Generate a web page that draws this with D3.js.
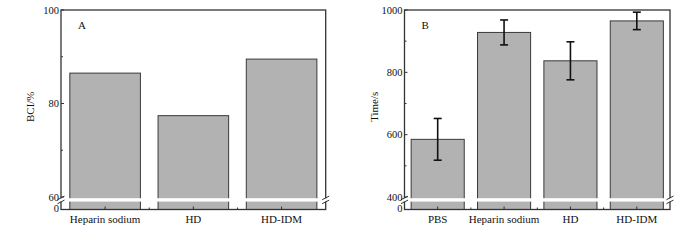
<!DOCTYPE html>
<html>
<head>
<meta charset="utf-8">
<script src="https://cdn.jsdelivr.net/npm/d3@7"></script>
<style>
  body { margin: 0; background: #fff; }
  svg { display: block; font-family: 'Liberation Serif', 'Times New Roman', serif; }
</style>
</head>
<body>
<div id="chart"></div>
<script>
// panel A
const catsA = ['Heparin sodium', 'HD', 'HD-IDM']
const valsA = [86.5, 77.4, 89.5]
const ticksA = [60, 80, 100]
const minorA = [70, 90]

// panel B
const catsB = ['PBS', 'Heparin sodium', 'HD', 'HD-IDM']
const valsB = [585, 928, 837, 965]
const errsB = [67, 40, 61, 28]
const ticksB = [400, 600, 800, 1000]
const minorB = [500, 700, 900]

const svg = d3.select('#chart').append('svg').attr('width', 700).attr('height', 240)

const plotTop = 10
const breakY = 197   // y of the lower domain value
const plotBottom = 209.5
const bandTop = 198.2
const bandBot = 201.6

function panel(opts) {
  const { x0, x1, cats, vals, errs, ticks, minor, label, letter } = opts
  const g = svg.append('g')
  const lo = ticks[0]
  const hi = ticks[ticks.length - 1]
  const y = d3.scaleLinear().domain([lo, hi]).range([breakY, plotTop])
  const x = d3.scaleBand().domain(cats).range([x0, x1]).paddingInner(0.2).paddingOuter(0.1)

  // bars
  g.selectAll('rect.bar')
    .data(vals)
    .join('rect')
    .attr('class', 'bar')
    .attr('x', (d, i) => x(cats[i]))
    .attr('y', (d) => y(d))
    .attr('width', x.bandwidth())
    .attr('height', (d) => plotBottom - y(d))
    .attr('fill', '#b2b2b2')
    .attr('stroke', '#3a3a3a')
    .attr('stroke-width', 1)

  // error bars
  if (errs) {
    const cap = 4
    const eg = g.selectAll('g.err').data(vals).join('g').attr('class', 'err')
      .attr('stroke', '#111').attr('stroke-width', 1.6)
    eg.append('line')
      .attr('x1', (d, i) => x(cats[i]) + x.bandwidth() / 2)
      .attr('x2', (d, i) => x(cats[i]) + x.bandwidth() / 2)
      .attr('y1', (d, i) => y(d + errs[i]))
      .attr('y2', (d, i) => y(d - errs[i]))
    eg.append('line')
      .attr('x1', (d, i) => x(cats[i]) + x.bandwidth() / 2 - cap)
      .attr('x2', (d, i) => x(cats[i]) + x.bandwidth() / 2 + cap)
      .attr('y1', (d, i) => y(d + errs[i]))
      .attr('y2', (d, i) => y(d + errs[i]))
    eg.append('line')
      .attr('x1', (d, i) => x(cats[i]) + x.bandwidth() / 2 - cap)
      .attr('x2', (d, i) => x(cats[i]) + x.bandwidth() / 2 + cap)
      .attr('y1', (d, i) => y(d - errs[i]))
      .attr('y2', (d, i) => y(d - errs[i]))
  }

  // frame
  g.append('rect')
    .attr('x', x0).attr('y', plotTop)
    .attr('width', x1 - x0).attr('height', plotBottom - plotTop)
    .attr('fill', 'none').attr('stroke', '#333').attr('stroke-width', 1.3)

  // break band
  g.append('rect')
    .attr('x', x0 - 1).attr('y', bandTop)
    .attr('width', x1 - x0 + 2).attr('height', bandBot - bandTop)
    .attr('fill', '#fff')

  // break marks
  ;[x0, x1].forEach((bx) => {
    ;[bandTop - 0.3, bandBot + 0.3].forEach((by) => {
      g.append('line')
        .attr('x1', bx - 3.5).attr('y1', by + 1.8)
        .attr('x2', bx + 3.5).attr('y2', by - 1.8)
        .attr('stroke', '#333').attr('stroke-width', 1)
    })
  })

  // y ticks (inward)
  const axis = g.append('g').attr('font-size', 11).attr('fill', '#111')
  ticks.forEach((t) => {
    axis.append('line')
      .attr('x1', x0).attr('x2', x0 + 3)
      .attr('y1', y(t)).attr('y2', y(t))
      .attr('stroke', '#333')
    axis.append('text')
      .attr('x', x0 - 2).attr('y', y(t)).attr('dy', '0.35em')
      .attr('font-size', 10.5)
      .attr('text-anchor', 'end').text(t)
  })
  minor.forEach((t) => {
    axis.append('line')
      .attr('x1', x0).attr('x2', x0 + 2)
      .attr('y1', y(t)).attr('y2', y(t))
      .attr('stroke', '#333')
  })
  axis.append('text')
    .attr('x', x0 - 2).attr('y', plotBottom - 1).attr('dy', '0.35em')
    .attr('font-size', 10.5)
    .attr('text-anchor', 'end').text(0)

  // x ticks
  cats.forEach((c, i) => {
    const cx = x(c) + x.bandwidth() / 2
    axis.append('line')
      .attr('x1', cx).attr('x2', cx)
      .attr('y1', plotBottom).attr('y2', plotBottom - 3)
      .attr('stroke', '#333')
    axis.append('text')
      .attr('x', cx).attr('y', plotBottom + 13)
      .attr('text-anchor', 'middle').text(c)
    if (i > 0) {
      const mx = x(c) - (x.step() - x.bandwidth()) / 2
      axis.append('line')
        .attr('x1', mx).attr('x2', mx)
        .attr('y1', plotBottom).attr('y2', plotBottom - 2)
        .attr('stroke', '#333')
    }
  })

  // y label
  axis.append('text')
    .attr('transform', `translate(${x0 - 27},${(plotTop + plotBottom) / 2 - 3}) rotate(-90)`)
    .attr('text-anchor', 'middle').text(label)

  // panel letter
  axis.append('text')
    .attr('x', x0 + 17).attr('y', plotTop + 19)
    .text(letter)
}

panel({ x0: 61, x1: 325.7, cats: catsA, vals: valsA, ticks: ticksA, minor: minorA, label: 'BCI/%', letter: 'A' })
panel({ x0: 404.5, x1: 670, cats: catsB, vals: valsB, errs: errsB, ticks: ticksB, minor: minorB, label: 'Time/s', letter: 'B' })
</script>
</body>
</html>
